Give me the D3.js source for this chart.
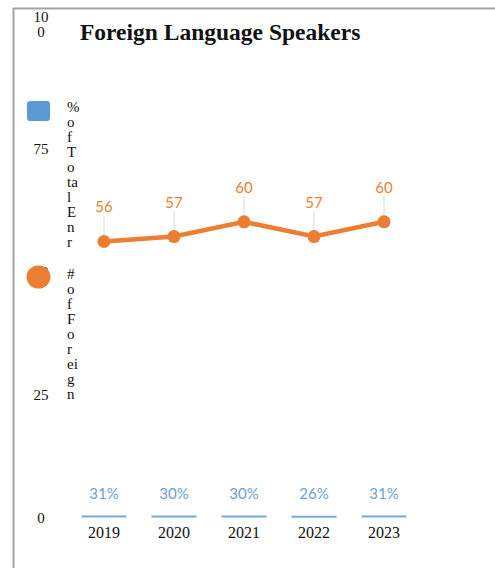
<!DOCTYPE html>
<html>
<head>
<meta charset="utf-8">
<script src="https://cdn.jsdelivr.net/npm/d3@7/dist/d3.min.js"></script>
<style>
  html, body { margin: 0; padding: 0; background: #fff; overflow: hidden; }
  svg { display: block; }
</style>
</head>
<body>
<svg id="chart" width="495" height="568"></svg>
<script>
// ---- data ----
const title = "Foreign Language Speakers";
const years = ["2019", "2020", "2021", "2022", "2023"];
const pctOfTotal = [0.31, 0.30, 0.30, 0.26, 0.31];   // bar series (shown as %)
const foreignCount = [56, 57, 60, 57, 60];            // line series
const yTicks = [0, 25, 50, 75, 100];
const legendPctChunks = ["%", "o", "f", "T", "o", "ta", "l", "E", "n", "r"];
const legendCountChunks = ["#", "o", "f", "F", "o", "r", "ei", "g", "n"];

const blue = "#5b9bd5", orange = "#ed7d31";
const serif = "'Liberation Serif', 'Times New Roman', serif";
const sans = "Lato, 'Open Sans', sans-serif";

const svg = d3.select("#chart");

// frame
svg.append("line").attr("x1", 13).attr("x2", 495).attr("y1", 8.5).attr("y2", 8.5)
  .attr("stroke", "#a3a3a3").attr("stroke-width", 2);
svg.append("line").attr("x1", 13.5).attr("x2", 13.5).attr("y1", 8).attr("y2", 568)
  .attr("stroke", "#a3a3a3").attr("stroke-width", 2);

// scales
const x = d3.scaleBand().domain(years).range([69, 419]).paddingInner(0.357).paddingOuter(0.1785);
const y = d3.scaleLinear().domain([0, 100]).range([517, 25]);

// y axis labels (wrapped narrow column)
const yAxis = svg.append("g").attr("font-family", serif).attr("font-size", 15).attr("fill", "#111");
yTicks.forEach(t => {
  const s = String(t);
  const parts = s.length > 2 ? [s.slice(0, 2), s.slice(2)] : [s];
  const lh = 15;
  const y0 = y(t) - (parts.length - 1) * (lh / 2 + 2) + 1;
  parts.forEach((p, i) => {
    yAxis.append("text").attr("x", 41).attr("y", y0 + i * lh).attr("dy", "0.35em")
      .attr("text-anchor", "middle").text(p);
  });
});

// title
svg.append("text").attr("x", 80).attr("y", 40).attr("font-family", serif)
  .attr("font-weight", "bold").attr("font-size", 23.5).attr("fill", "#111").text(title);

// legend
svg.append("rect").attr("x", 27).attr("y", 101).attr("width", 23).attr("height", 20)
  .attr("rx", 3).attr("fill", blue);
svg.append("ellipse").attr("cx", 38.5).attr("cy", 277).attr("rx", 12).attr("ry", 11.5)
  .attr("fill", orange);
function chunks(arr, startY) {
  svg.append("g").attr("font-family", serif).attr("font-size", 15).attr("fill", "#111")
    .selectAll("text").data(arr).join("text")
    .attr("x", 67).attr("y", (d, i) => startY + i * 15).attr("dy", "0.35em").text(d => d);
}
chunks(legendPctChunks, 107);
chunks(legendCountChunks, 274);

// bars
const barG = svg.append("g");
barG.selectAll("rect").data(pctOfTotal).join("rect")
  .attr("x", (d, i) => x(years[i]))
  .attr("width", x.bandwidth())
  .attr("y", d => y(d))
  .attr("height", d => Math.max(y(0) - y(d), 2))
  .attr("fill", blue).attr("opacity", 0.85);
barG.selectAll("text").data(pctOfTotal).join("text")
  .attr("x", (d, i) => x(years[i]) + x.bandwidth() / 2)
  .attr("y", 499)
  .attr("text-anchor", "middle").attr("font-family", sans).attr("font-size", 15)
  .attr("fill", "#6a9fd2").text(d => d3.format(".0%")(d));

// x labels
svg.append("g").selectAll("text").data(years).join("text")
  .attr("x", d => x(d) + x.bandwidth() / 2).attr("y", 538)
  .attr("text-anchor", "middle").attr("font-family", serif).attr("font-size", 16)
  .attr("fill", "#111").text(d => d);

// line
const cx = i => x(years[i]) + x.bandwidth() / 2;
const lineG = svg.append("g");
lineG.selectAll("line.leader").data(foreignCount).join("line").attr("class", "leader")
  .attr("x1", (d, i) => cx(i)).attr("x2", (d, i) => cx(i))
  .attr("y1", d => y(d) - 26).attr("y2", d => y(d))
  .attr("stroke", "#d9d9d9").attr("stroke-width", 1);
lineG.append("path").datum(foreignCount)
  .attr("d", d3.line().x((d, i) => cx(i)).y(d => y(d)))
  .attr("fill", "none").attr("stroke", orange).attr("stroke-width", 4.5);
lineG.selectAll("circle").data(foreignCount).join("circle")
  .attr("cx", (d, i) => cx(i)).attr("cy", d => y(d)).attr("r", 6.5).attr("fill", orange);
lineG.selectAll("text").data(foreignCount).join("text")
  .attr("x", (d, i) => cx(i)).attr("y", d => y(d) - 29)
  .attr("text-anchor", "middle").attr("font-family", sans).attr("font-size", 15)
  .attr("fill", orange).text(d => d);
</script>
</body>
</html>
